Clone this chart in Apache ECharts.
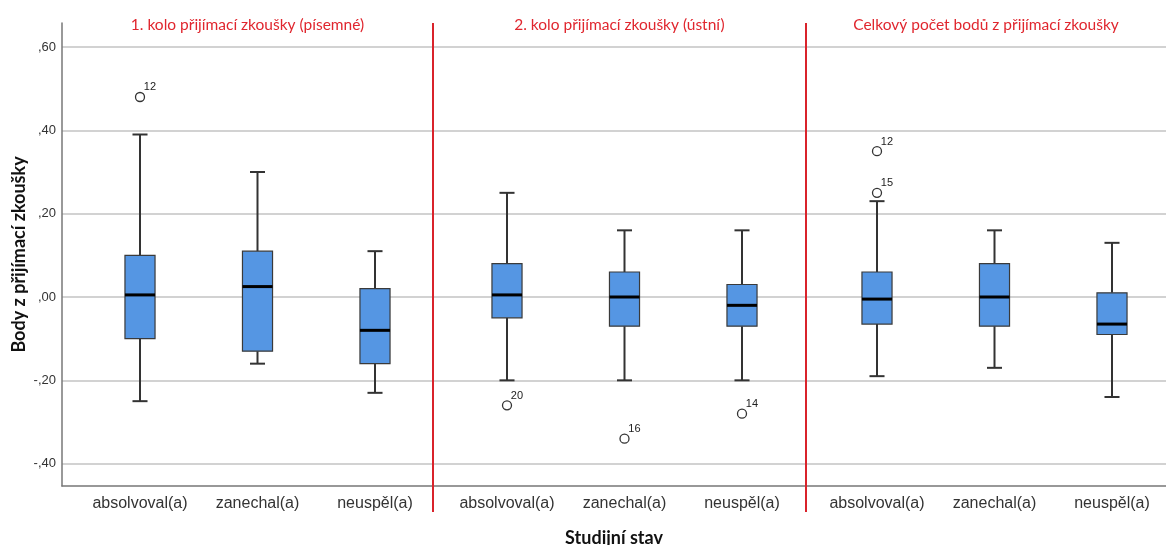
<!DOCTYPE html>
<html>
<head>
<meta charset="utf-8">
<title>Body z přijímací zkoušky</title>
<script src="https://cdn.jsdelivr.net/npm/echarts@6/dist/echarts.min.js"></script>
<style>
  html, body { margin: 0; padding: 0; background: #fff; }
  #chart { width: 1166px; height: 545px; }
</style>
</head>
<body>
<div id="chart"></div>
<script>
// kategorie (studijní stav)
var categories = ["absolvoval(a)", "zanechal(a)", "neuspěl(a)"];
var panelTitles = [
  "1. kolo přijímací zkoušky (písemné)",
  "2. kolo přijímací zkoušky (ústní)",
  "Celkový počet bodů z přijímací zkoušky"
];
var yTicks = [-0.4, -0.2, 0, 0.2, 0.4, 0.6];

// [dolní vous, Q1, medián, Q3, horní vous]
var box1 = [[-0.25, -0.10, 0.005, 0.10, 0.39], [-0.16, -0.13, 0.025, 0.11, 0.30], [-0.23, -0.16, -0.08, 0.02, 0.11]];
var box2 = [[-0.20, -0.05, 0.005, 0.08, 0.25], [-0.20, -0.07, 0.00, 0.06, 0.16], [-0.20, -0.07, -0.02, 0.03, 0.16]];
var box3 = [[-0.19, -0.065, -0.005, 0.06, 0.23], [-0.17, -0.07, 0.00, 0.08, 0.16], [-0.24, -0.09, -0.065, 0.01, 0.13]];

// odlehlé hodnoty: [kategorie, hodnota, číslo případu]
var out1 = [[0, 0.48, "12"]];
var out2 = [[0, -0.26, "20"], [1, -0.34, "16"], [2, -0.28, "14"]];
var out3 = [[0, 0.35, "12"], [0, 0.25, "15"]];

var boxes = [box1, box2, box3];
var outliers = [out1, out2, out3];

// rozsah osy y tak, aby osa sahala nad ,60 a pod -,40
var YMIN = -0.4536, YMAX = 0.6576;
var panelLeft = [81.25, 448.25, 818.25];

var chart = echarts.init(document.getElementById("chart"));

function renderBox(params, api) {
  var x = api.value(0);
  var lo = api.coord([x, api.value(1)]);
  var q1 = api.coord([x, api.value(2)]);
  var md = api.coord([x, api.value(3)]);
  var q3 = api.coord([x, api.value(4)]);
  var hi = api.coord([x, api.value(5)]);
  var cx = lo[0];
  var half = api.size([1, 0])[0] * 0.128;
  var cap = half / 2;
  var lineStyle = { stroke: "#333", lineWidth: 2 };
  return {
    type: "group",
    children: [
      { type: "line", shape: { x1: cx, y1: hi[1], x2: cx, y2: q3[1] }, style: lineStyle },
      { type: "line", shape: { x1: cx, y1: q1[1], x2: cx, y2: lo[1] }, style: lineStyle },
      { type: "line", shape: { x1: cx - cap, y1: hi[1], x2: cx + cap, y2: hi[1] }, style: lineStyle },
      { type: "line", shape: { x1: cx - cap, y1: lo[1], x2: cx + cap, y2: lo[1] }, style: lineStyle },
      {
        type: "rect",
        shape: { x: cx - half, y: q3[1], width: half * 2, height: q1[1] - q3[1] },
        style: { fill: "#5596e3", stroke: "#3a3a3a", lineWidth: 1.2 }
      },
      { type: "line", shape: { x1: cx - half, y1: md[1], x2: cx + half, y2: md[1] }, style: { stroke: "#000", lineWidth: 3 } }
    ]
  };
}

var grids = [
  { left: 62, top: 23, width: 1104, height: 463, containLabel: false, outerBoundsMode: "none" },
  { left: 62, top: 47, width: 1104, height: 416.67, containLabel: false, outerBoundsMode: "none" }
];
var xAxes = [
  { gridIndex: 0, type: "value", min: 0, max: 1,
    axisLine: { show: true, onZero: false, lineStyle: { color: "#777", width: 1.5 } },
    axisTick: { show: false }, axisLabel: { show: false }, splitLine: { show: false },
    name: "Studijní stav", nameLocation: "middle", nameGap: 43,
    nameTextStyle: { fontFamily: "Lato", fontWeight: "bold", fontSize: 18, color: "#111" } },
  { gridIndex: 1, type: "value", show: false, min: 0, max: 1 }
];
var yAxes = [
  { gridIndex: 0, type: "value", min: YMIN, max: YMAX,
    axisLine: { show: true, onZero: false, lineStyle: { color: "#777", width: 1.5 } },
    axisTick: { show: false }, axisLabel: { show: false }, splitLine: { show: false },
    name: "Body z přijímací zkoušky", nameLocation: "middle", nameGap: 34, nameRotate: 90,
    nameTextStyle: { fontFamily: "Lato", fontWeight: "bold", fontSize: 18, color: "#111" } },
  { gridIndex: 1, type: "value", min: yTicks[0], max: yTicks[yTicks.length - 1], interval: 0.2,
    axisLine: { show: false }, axisTick: { show: false },
    splitLine: { show: true, lineStyle: { color: "#d2d2d2", width: 2 } },
    axisLabel: {
      margin: 6, fontSize: 13, color: "#333", fontFamily: "Liberation Sans",
      formatter: function (v) {
        var s = Math.abs(v).toFixed(2).replace(/^0/, "").replace(".", ",");
        return (v < -1e-9 ? "-" : "") + s;
      }
    } }
];
var series = [];

for (var p = 0; p < 3; p++) {
  var gi = p + 2;
  grids.push({ left: panelLeft[p], top: 23, width: 352.5, height: 463, containLabel: false, outerBoundsMode: "none" });
  xAxes.push({
    gridIndex: gi, type: "category", data: categories,
    axisLine: { show: false }, axisTick: { show: false }, splitLine: { show: false },
    axisLabel: { interval: 0, hideOverlap: false, margin: 10, fontSize: 16, color: "#333", fontFamily: "Liberation Sans" }
  });
  yAxes.push({ gridIndex: gi, type: "value", min: YMIN, max: YMAX, show: false, splitLine: { show: false } });
  series.push({
    type: "custom",
    xAxisIndex: gi, yAxisIndex: gi,
    renderItem: renderBox,
    encode: { x: 0, y: [1, 2, 3, 4, 5] },
    data: boxes[p].map(function (b, i) { return [i].concat(b); }),
    z: 3
  });
  series.push({
    type: "scatter",
    xAxisIndex: gi, yAxisIndex: gi,
    symbol: "circle", symbolSize: 9,
    itemStyle: { color: "#fff", borderColor: "#333", borderWidth: 1.3, opacity: 1 },
    label: {
      show: true, position: [9, -10], fontSize: 11, color: "#222", fontFamily: "Liberation Sans",
      formatter: function (d) { return d.value[2]; }
    },
    data: outliers[p],
    z: 4
  });
}

var titleCenters = [247.5, 619.5, 986];
var graphics = [];
for (var t = 0; t < 3; t++) {
  graphics.push({
    type: "text", x: titleCenters[t], y: 25, z: 10,
    style: { text: panelTitles[t], align: "center", verticalAlign: "middle",
      fill: "#e0262e", font: "15.5px Lato" }
  });
}
[433, 806].forEach(function (x) {
  graphics.push({
    type: "line", z: 10,
    shape: { x1: x, y1: 23, x2: x, y2: 512 },
    style: { stroke: "#d9232b", lineWidth: 2 }
  });
});

chart.setOption({
  animation: false,
  backgroundColor: "#fff",
  grid: grids,
  xAxis: xAxes,
  yAxis: yAxes,
  series: series,
  graphic: graphics
});
</script>
</body>
</html>
